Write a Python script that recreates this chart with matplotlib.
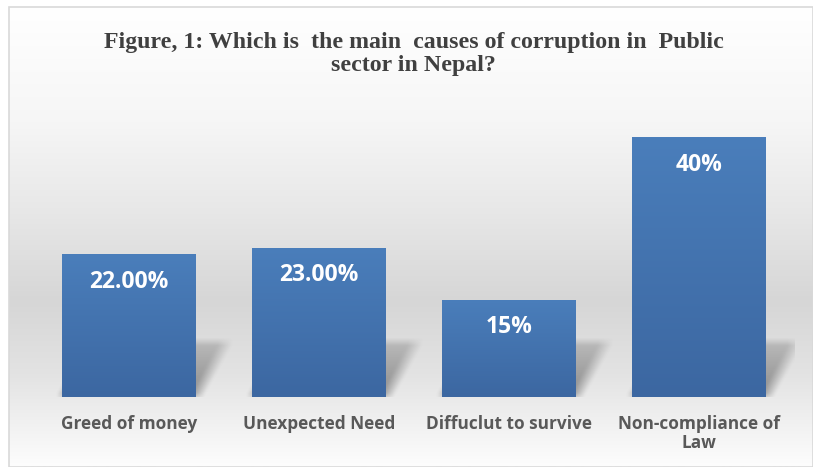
import numpy as np
import matplotlib
matplotlib.use("Agg")
import matplotlib.pyplot as plt
from matplotlib.colors import LinearSegmentedColormap
from matplotlib.patches import Rectangle

categories = ["Greed of money", "Unexpected Need", "Diffuclut to survive", "Non-compliance of\nLaw"]
values = [22.0, 23.0, 15.0, 40.0]
value_labels = ["22.00%", "23.00%", "15%", "40%"]
title = "Figure, 1: Which is  the main  causes of corruption in  Public\nsector in Nepal?"

W, H = 813, 467
fig = plt.figure(figsize=(W / 100, H / 100), dpi=100)
fig.patch.set_facecolor("white")

# chart area background: white -> grey -> white vertical gradient
bg = fig.add_axes([0, 0, 1, 1], zorder=0)
bg.set_xlim(0, W)
bg.set_ylim(H, 0)
bg.axis("off")
bg_cmap = LinearSegmentedColormap.from_list(
    "bg",
    [(0.0, "#ffffff"), (0.25, "#f6f6f6"), (0.45, "#e7e7e7"),
     (0.64, "#d6d6d6"), (0.80, "#e3e3e3"), (1.0, "#fdfdfd")],
)
grad = np.linspace(0, 1, 256).reshape(-1, 1)
bg.imshow(grad, cmap=bg_cmap, extent=(9, W, H, 7), aspect="auto", interpolation="bilinear")
bg.add_patch(Rectangle((9, 7), W - 9, H - 7, fill=False, edgecolor="#d9d9d9", linewidth=1.2))

fig.text(0.5085, 1 - 54 / H, title, ha="center", va="center", fontsize=17.2,
         fontweight="bold", family="Liberation Serif", color="#404040", linespacing=1.1)

ax = fig.add_axes([34 / W, (H - 397) / H, 760 / W, 292.5 / H], zorder=1)
ax.patch.set_alpha(0)
for sp in ax.spines.values():
    sp.set_visible(False)
ax.set_yticks([])
x = np.arange(len(categories))
ax.set_xticks(x)
ax.set_xticklabels(categories, fontsize=12.4, fontweight="bold", family="Open Sans",
                   color="#595959", linespacing=1.1)
ax.tick_params(axis="x", length=0, pad=13)

bar_w = 0.705
bars = ax.bar(x, values, width=bar_w, color="#4779b5", zorder=3)

# soft perspective shadow behind each bar
shift, rise = 0.16, 8.5
gx = np.linspace(-0.5, 3.5, 1600)
gy = np.linspace(0, rise + 3, 160)
X, Y = np.meshgrid(gx, gy)
alpha = np.zeros_like(X)
for b in bars:
    xl = b.get_x()
    xr = xl + b.get_width()
    t = np.clip(Y / rise, 0, None)
    inside = (X >= xl + shift * t) & (X <= xr + shift * t) & (Y <= rise)
    alpha = np.maximum(alpha, inside * np.clip(1 - 0.6 * t, 0, 1))


def box_blur(a, k, axis):
    kern = np.ones(k) / k
    return np.apply_along_axis(lambda r: np.convolve(r, kern, mode="same"), axis, a)


alpha = box_blur(box_blur(alpha, 31, 1), 17, 0)
shadow = np.zeros(X.shape + (4,))
shadow[..., :3] = 0.3
shadow[..., 3] = np.clip(alpha * 0.6, 0, 1)
ax.imshow(shadow, extent=(gx[0], gx[-1], gy[0], gy[-1]), origin="lower",
          aspect="auto", zorder=2, interpolation="bilinear")

# vertical gradient fill on the bars
bar_cmap = LinearSegmentedColormap.from_list("bar", ["#3c67a1", "#4a7ebb"])
for b in bars:
    xl, h = b.get_x(), b.get_height()
    im = ax.imshow(grad, cmap=bar_cmap, extent=(xl, xl + b.get_width(), 0, h),
                   origin="lower", aspect="auto", zorder=4, interpolation="bilinear")
    im.set_clip_path(b)

for b, lab in zip(bars, value_labels):
    ax.annotate(lab, (b.get_x() + b.get_width() / 2, b.get_height()),
                xytext=(0, -20), textcoords="offset points", ha="center", va="center",
                fontsize=16.5, fontweight="bold", family="Open Sans", color="white", zorder=5)

ax.set_xlim(-0.5, 3.5)
ax.set_ylim(0, 45)
fig.savefig("out.png", dpi=100)
